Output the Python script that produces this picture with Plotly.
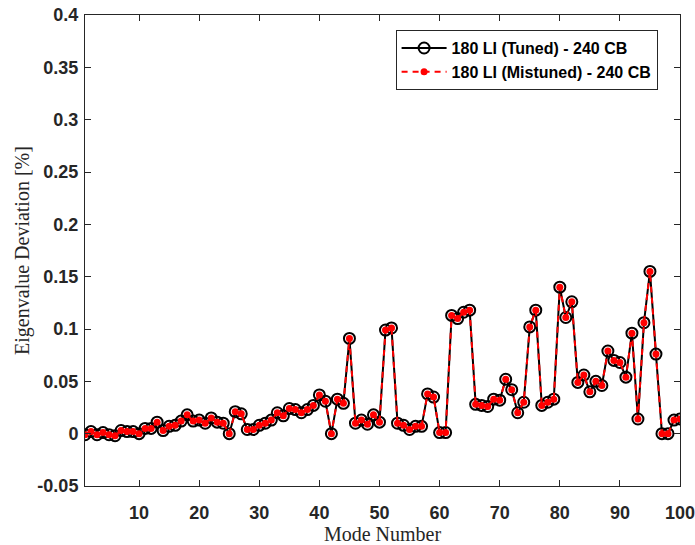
import plotly.graph_objects as go

mode_number = list(range(1, 101))

tuned = [
    -0.001, 0.002, -0.001, 0.001, -0.001, -0.002, 0.003, 0.002, 0.002, 0.000,
    0.005, 0.005, 0.011, 0.003, 0.007, 0.008, 0.012, 0.018, 0.012, 0.013,
    0.010, 0.015, 0.011, 0.010, 0.000, 0.021, 0.019, 0.004, 0.004, 0.008,
    0.010, 0.013, 0.020, 0.017, 0.024, 0.023, 0.020, 0.023, 0.027, 0.037,
    0.031, 0.000, 0.033, 0.029, 0.091, 0.010, 0.013, 0.009, 0.018, 0.011,
    0.099, 0.101, 0.010, 0.008, 0.004, 0.007, 0.007, 0.038, 0.035, 0.001,
    0.001, 0.113, 0.110, 0.116, 0.118, 0.028, 0.027, 0.026, 0.033, 0.032,
    0.052, 0.042, 0.020, 0.030, 0.102, 0.118, 0.027, 0.030, 0.033, 0.140,
    0.111, 0.126, 0.049, 0.056, 0.040, 0.050, 0.046, 0.079, 0.070, 0.068,
    0.054, 0.096, 0.014, 0.106, 0.155, 0.076, 0.000, 0.000, 0.013, 0.014,
]
mistuned = list(tuned)

x_ticks = [10, 20, 30, 40, 50, 60, 70, 80, 90, 100]
y_ticks = [-0.05, 0, 0.05, 0.1, 0.15, 0.2, 0.25, 0.3, 0.35, 0.4]
y_tick_labels = ["-0.05", "0", "0.05", "0.1", "0.15", "0.2", "0.25", "0.3", "0.35", "0.4"]

axis_color = "#262626"
tick_font = dict(family="Liberation Sans, Arial", size=18, color=axis_color, weight="bold")
title_font = dict(family="Liberation Serif, Times New Roman", size=20, color=axis_color)

fig = go.Figure()
fig.add_trace(go.Scatter(
    x=mode_number, y=tuned, mode="lines+markers",
    name="180 LI (Tuned) - 240 CB",
    line=dict(color="black", width=2),
    marker=dict(symbol="circle-open", size=11, color="black", line=dict(width=2, color="black")),
))
fig.add_trace(go.Scatter(
    x=mode_number, y=mistuned, mode="lines+markers",
    name="180 LI (Mistuned) - 240 CB",
    line=dict(color="red", width=2, dash="6px,5px"),
    marker=dict(symbol="circle", size=7, color="red"),
))

fig.update_layout(
    width=695, height=545,
    margin=dict(l=85, r=15, t=15, b=59, autoexpand=False),
    paper_bgcolor="white", plot_bgcolor="white",
    showlegend=True,
    legend=dict(
        x=0.522, y=0.968, xanchor="left", yanchor="top",
        bgcolor="white", bordercolor=axis_color, borderwidth=1,
        font=dict(family="Liberation Sans, Arial", size=16, color="black", weight="bold"),
        itemwidth=45, tracegroupgap=0,
    ),
)
fig.update_xaxes(
    range=[1, 100], tickmode="array", tickvals=x_ticks,
    ticks="inside", ticklen=6, tickcolor=axis_color, tickwidth=1,
    showline=True, linecolor=axis_color, linewidth=1, mirror="ticks",
    showgrid=False, zeroline=False, tickfont=tick_font, ticklabelstandoff=10,
    ticklabeloverflow="allow", automargin=False,
    title=dict(text="Mode Number", font=title_font, standoff=4),
)
fig.update_yaxes(
    range=[-0.05, 0.4], tickmode="array", tickvals=y_ticks, ticktext=y_tick_labels,
    ticks="inside", ticklen=6, tickcolor=axis_color, tickwidth=1,
    showline=True, linecolor=axis_color, linewidth=1, mirror="ticks",
    showgrid=False, zeroline=False, tickfont=tick_font, ticklabelstandoff=2,
    ticklabeloverflow="allow", automargin=False,
    title=dict(text="Eigenvalue Deviation [%]", font=title_font, standoff=2),
)

fig.write_html(
    "out.html",
    config={"displayModeBar": False},
    post_script="document.body.style.margin='0';document.body.style.overflow='hidden';",
)
